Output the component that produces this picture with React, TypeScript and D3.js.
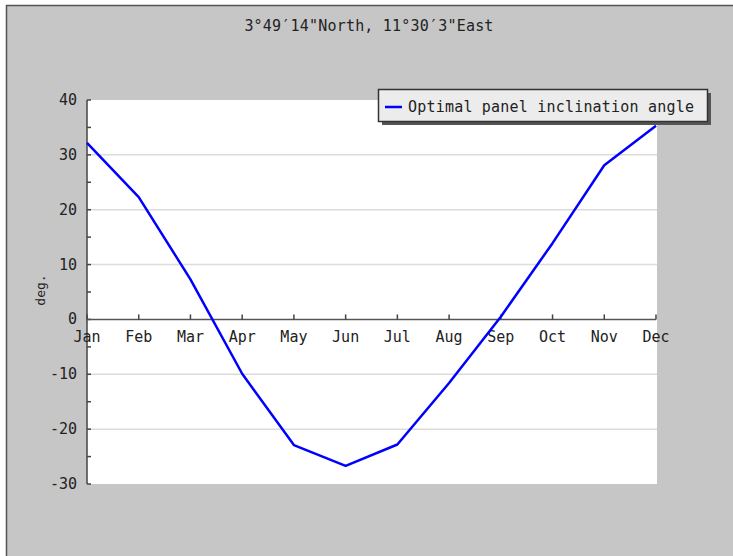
import React from "react";
import * as d3 from "d3";

const months = ["Jan","Feb","Mar","Apr","May","Jun","Jul","Aug","Sep","Oct","Nov","Dec"];
const angles = [32.2, 22.3, 7.3, -9.9, -22.9, -26.7, -22.8, -11.6, 0.5, 13.9, 28.1, 35.3];
const yTicks = [-30, -20, -10, 0, 10, 20, 30, 40];
const yMinorTicks = [-25, -15, -5, 5, 15, 25, 35];
const title = "3°49′14\"North, 11°30′3\"East";
const seriesName = "Optimal panel inclination angle";
const yLabel = "deg.";

const W = 733, H = 556;
const plot = { left: 87, right: 656, top: 100, bottom: 484 };
const font = "'DejaVu Sans Mono', monospace";

export default function App() {
  const x = d3.scalePoint<string>().domain(months).range([plot.left, plot.right]);
  const y = d3.scaleLinear().domain([-30, 40]).range([plot.bottom, plot.top]);
  const line = d3.line<number>().x((_, i) => x(months[i])!).y(d => y(d));
  const y0 = y(0);
  return (
    <svg width={W} height={H} style={{ position: "absolute", left: 0, top: 0 }} fontFamily={font}>
      <rect x={0} y={0} width={W} height={H} fill="#fff" />
      <rect x={6.5} y={5.5} width={W} height={H} fill="#c6c6c6" stroke="#555" strokeWidth={1.5} />
      <text x={369} y={31} textAnchor="middle" fontSize={15} letterSpacing={0.2} fill="#222">{title}</text>
      <rect x={plot.left} y={plot.top} width={plot.right - plot.left + 1} height={plot.bottom - plot.top} fill="#fff" />
      {yTicks.filter(t => t !== 0 && t !== 40 && t !== -30).map(t => (
        <line key={t} x1={plot.left} x2={plot.right + 1} y1={y(t)} y2={y(t)} stroke="#dcdcdc" strokeWidth={1.5} />
      ))}
      {/* y axis */}
      <line x1={plot.left} x2={plot.left} y1={plot.top} y2={plot.bottom} stroke="#444" strokeWidth={1.5} />
      {yTicks.map(t => (
        <g key={t}>
          <line x1={plot.left} x2={plot.left + 4} y1={y(t)} y2={y(t)} stroke="#444" strokeWidth={1.5} />
          <text x={77} y={y(t) + 5} textAnchor="end" fontSize={15} fill="#222">{t}</text>
        </g>
      ))}
      {yMinorTicks.map(t => (
        <line key={t} x1={plot.left} x2={plot.left + 4} y1={y(t)} y2={y(t)} stroke="#444" strokeWidth={1.5} />
      ))}
      <text transform={`translate(45,290) rotate(-90)`} textAnchor="middle" fontSize={13} fill="#222">{yLabel}</text>
      {/* x axis at zero */}
      <line x1={plot.left} x2={plot.right} y1={y0} y2={y0} stroke="#555" strokeWidth={1.5} />
      {months.map(m => (
        <g key={m}>
          <line x1={x(m)!} x2={x(m)!} y1={y0} y2={y0 - 5} stroke="#444" strokeWidth={1.5} />
          <text x={x(m)!} y={342} textAnchor="middle" fontSize={15} fill="#222">{m}</text>
        </g>
      ))}
      <path d={line(angles)!} fill="none" stroke="#0000ff" strokeWidth={2.5} strokeLinejoin="round" />
      {/* legend */}
      <rect x={382} y={93} width={329} height={32} fill="#555" />
      <rect x={378.5} y={89.5} width={329} height={32} fill="#ececec" stroke="#333" strokeWidth={1.5} />
      <line x1={385} x2={402} y1={107} y2={107} stroke="#0000ff" strokeWidth={2.5} />
      <text x={408} y={112} fontSize={15} letterSpacing={0.2} fill="#222">{seriesName}</text>
    </svg>
  );
}
